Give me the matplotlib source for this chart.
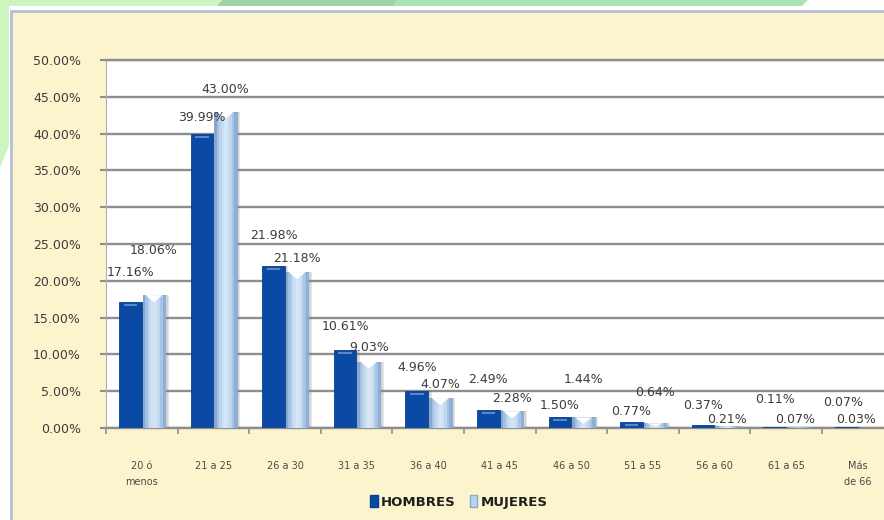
import numpy as np
import matplotlib
matplotlib.use("Agg")
import matplotlib.pyplot as plt
from matplotlib.patches import Polygon, Rectangle, Patch

# ---- data -------------------------------------------------------------
categories = ["20 ó\nmenos", "21 a 25", "26 a 30", "31 a 35", "36 a 40",
              "41 a 45", "46 a 50", "51 a 55", "56 a 60", "61 a 65",
              "Más\nde 66"]
hombres = [17.16, 39.99, 21.98, 10.61, 4.96, 2.49, 1.50, 0.77, 0.37, 0.11, 0.07]
mujeres = [18.06, 43.00, 21.18, 9.03, 4.07, 2.28, 1.44, 0.64, 0.21, 0.07, 0.03]
series_names = ["HOMBRES", "MUJERES"]
y_ticks = [0, 5, 10, 15, 20, 25, 30, 35, 40, 45, 50]

# placement of each value label relative to the top of its bar (points)
h_label_dy = [21, 12, 22, 17, 17, 22, 8, 8, 14, 20, 18]
m_label_dy = [32, 16, 10, 10, 10, 9, 27, 22, 5, 6, 6]
h_label_dx = [0, 0, 0, 0, 0, 0, 0, 0, 0, 0, -2]
m_label_dx = [0, 0, 0, 0, 0, 0, 0, 0, 0, -2, -10]

# ---- figure -----------------------------------------------------------
W, H = 884, 520
fig = plt.figure(figsize=(W / 100, H / 100), dpi=100)
fig.patch.set_facecolor("white")


def fx(px):
    return px / W


def fy(py):
    return 1 - py / H


def fpoly(pts, **kw):
    return Polygon([(fx(x), fy(y)) for x, y in pts], closed=True,
                   transform=fig.transFigure, **kw)


# decorative green band along the top and left edge
fig.add_artist(fpoly([(0, 0), (222, 0), (217, 6), (9, 6), (9, 145), (0, 168)],
                     facecolor="#cdf5c0", edgecolor="none", zorder=-3))
fig.add_artist(fpoly([(222, 0), (397, 0), (394, 6), (217, 6)],
                     facecolor="#a2d2a8", edgecolor="none", zorder=-3))
fig.add_artist(fpoly([(397, 0), (808, 0), (802, 6), (394, 6)],
                     facecolor="#a9e3b5", edgecolor="none", zorder=-3))

# chart area
fig.add_artist(Rectangle((fx(11), fy(530)), fx(900) - fx(11), fy(11) - fy(530),
                         transform=fig.transFigure, facecolor="#fcf4cd",
                         edgecolor="#b2bedb", linewidth=2.0, zorder=-2))

# plot area: 11 categories, ~71.6 px each, top at 50 %, bottom at 0 %
cat_px = 71.6
ax = fig.add_axes([fx(106), fy(428), fx(106 + cat_px * len(categories)) - fx(106),
                   fy(60) - fy(428)])
ax.set_facecolor("white")
ax.set_xlim(-0.5, len(categories) - 0.5)
ax.set_ylim(0, 50)

x = np.arange(len(categories))
bw = 0.315
h_off, m_off = -0.16, 0.17
px_per_unit = 368 / 50.0  # pixels per percentage point

# grid
ax.set_yticks(y_ticks)
ax.set_yticklabels([f"{v:.2f}%" for v in y_ticks])
ax.yaxis.grid(True, color="#8e8e8e", linewidth=1.7, zorder=0)
ax.set_axisbelow(True)
ax.spines["right"].set_visible(False)
ax.spines["top"].set_color("#8e8e8e")
ax.spines["top"].set_linewidth(1.7)
ax.spines["left"].set_color("#b0b0b0")
ax.spines["left"].set_linewidth(0.8)
ax.spines["bottom"].set_color("#8e8e8e")
ax.spines["bottom"].set_linewidth(1.7)

ax.tick_params(axis="y", length=4, width=1.5, color="#8e8e8e", pad=14,
               labelsize=9, labelcolor="#3c3c3c")
ax.set_xticks(x)
ax.set_xticklabels(categories, fontsize=7, color="#4a4a4a", linespacing=1.75)
ax.tick_params(axis="x", length=0, pad=24)
ax.set_xticks(np.arange(-0.5, len(categories), 1.0), minor=True)
ax.tick_params(axis="x", which="minor", length=4, width=1.2, color="#8e8e8e")

# soft shadows to the right of the bars
for off in (0.035, 0.05):
    ax.bar(x + h_off + off, hombres, width=bw, color="#7f7f7f", alpha=0.18,
           zorder=1, linewidth=0)
    ax.bar(x + m_off + off, mujeres, width=bw, color="#7f7f7f", alpha=0.18,
           zorder=1, linewidth=0)

# HOMBRES: solid dark blue with a light bevel line near the top
ax.bar(x + h_off, hombres, width=bw, color="#0b4aa4", edgecolor="#0a3f8c",
       linewidth=0.6, zorder=3)
for xi, v in zip(x, hombres):
    if v > 0.7:
        yv = v - 3.0 / px_per_unit
        ax.plot([xi + h_off - bw * 0.3, xi + h_off + bw * 0.3], [yv, yv],
                color="#6b93d6", linewidth=1.2, zorder=4, solid_capstyle="butt")

# MUJERES: light blue cylinder shading built from narrow vertical strips
strip_cols = ["#86a7d2", "#a3c1e4", "#bcd4ee", "#cde0f3", "#d6e6f6",
              "#cfe1f4", "#bfd6ef", "#a8c4e5", "#8cafd9"]
n = len(strip_cols)
sw = bw / n
for k, c in enumerate(strip_cols):
    ax.bar(x + m_off - bw / 2 + sw * (k + 0.5), mujeres, width=sw * 1.02,
           color=c, linewidth=0, zorder=3)
ax.bar(x + m_off, mujeres, width=bw, facecolor="none", edgecolor="#8aa9d0",
       linewidth=0.6, zorder=4)
# white chevron at the top of each light bar
for xi, v in zip(x, mujeres):
    depth = min(7.0 / px_per_unit, v * 0.6)
    cx = xi + m_off
    ax.fill([cx - bw * 0.38, cx + bw * 0.38, cx], [v, v, v - depth],
            color="white", zorder=5, linewidth=0)

# value labels
for xi, v, dx, dy in zip(x, hombres, h_label_dx, h_label_dy):
    ax.annotate(f"{v:.2f}%", (xi + h_off, v), xytext=(dx, dy),
                textcoords="offset points", ha="center", va="center",
                fontsize=9, color="#3c3c3c", zorder=6, annotation_clip=False)
for xi, v, dx, dy in zip(x, mujeres, m_label_dx, m_label_dy):
    ax.annotate(f"{v:.2f}%", (xi + m_off, v), xytext=(dx, dy),
                textcoords="offset points", ha="center", va="center",
                fontsize=9, color="#3c3c3c", zorder=6, annotation_clip=False)

# legend
handles = [Patch(facecolor="#0b4aa4", edgecolor="#0a3f8c"),
           Patch(facecolor="#bcd4ee", edgecolor="#8aa9d0")]
leg = fig.legend(handles, series_names, loc="center",
                 bbox_to_anchor=(fx(459), fy(502)), ncol=2, frameon=False,
                 handlelength=0.55, handleheight=1.0, handletextpad=0.25,
                 columnspacing=1.1, prop={"weight": "bold", "size": 9.5})
for t in leg.get_texts():
    t.set_color("#1e1e1e")

fig.savefig("out.png", dpi=100)
